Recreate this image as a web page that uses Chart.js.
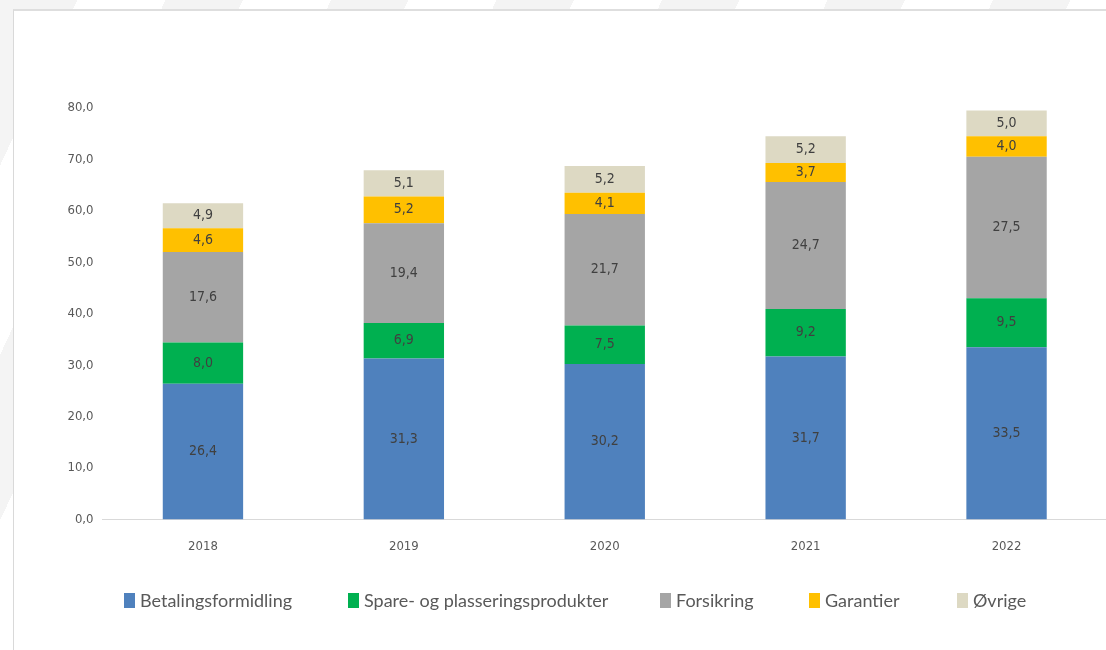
<!DOCTYPE html>
<html>
<head>
<meta charset="utf-8">
<script src="https://cdn.jsdelivr.net/npm/chart.js@4.4.1/dist/chart.umd.min.js"></script>
<style>
  html, body { margin: 0; padding: 0; width: 1106px; height: 650px; overflow: hidden; }
  body {
    background-color: #f5f5f5;
    background-image: repeating-linear-gradient(115deg, #f4f4f4 0px, #f4f4f4 70px, #ffffff 70px, #ffffff 150px);
  }
  #frame {
    position: absolute; left: 13px; top: 9px; width: 1100px; height: 650px;
    background: #ffffff; border-left: 1px solid #d9d9d9; border-top: 2px solid #dedede;
  }
  #wrap { position: absolute; left: 1px; top: 0px; width: 1092px; height: 562px; }
  #legend { position: absolute; left: 0; top: 0; width: 1106px; height: 650px; pointer-events: none; }
  .item {
    position: absolute; top: 588px; height: 24px; display: flex; align-items: center;
    font-family: 'Lato', sans-serif; font-size: 18px; color: #595959; white-space: nowrap;
  }
  .item i { display: inline-block; width: 11px; height: 15px; margin-right: 5px; }
</style>
</head>
<body>
<div id="frame"><div id="wrap"><canvas id="c"></canvas></div></div>
<div id="legend"></div>
<script>
// Inntekter per område, mrd. kroner
const years = ['2018', '2019', '2020', '2021', '2022'];
const betalingsformidling = [26.4, 31.3, 30.2, 31.7, 33.5];
const spareOgPlassering = [8.0, 6.9, 7.5, 9.2, 9.5];
const forsikring = [17.6, 19.4, 21.7, 24.7, 27.5];
const garantier = [4.6, 5.2, 4.1, 3.7, 4.0];
const ovrige = [4.9, 5.1, 5.2, 5.2, 5.0];

const seriesNames = ['Betalingsformidling', 'Spare- og plasseringsprodukter', 'Forsikring', 'Garantier', 'Øvrige'];
const seriesValues = [betalingsformidling, spareOgPlassering, forsikring, garantier, ovrige];
const seriesColors = ['#4f81bd', '#00b050', '#a5a5a5', '#ffc000', '#ddd9c3'];

// left edge of each legend entry
const legendLeft = [124, 348, 660, 809, 957];

const narrow = "'Liberation Sans Narrow', 'DejaVu Sans Condensed', 'Roboto Condensed', sans-serif";

const fmt = v => v.toFixed(1).replace('.', ',');

// Writes each segment's value in its centre
const segmentLabels = {
  id: 'segmentLabels',
  afterDatasetsDraw(chart) {
    const ctx = chart.ctx;
    ctx.save();
    ctx.font = '14px ' + narrow;
    ctx.fillStyle = '#404040';
    ctx.textAlign = 'center';
    ctx.textBaseline = 'middle';
    chart.data.datasets.forEach((ds, i) => {
      chart.getDatasetMeta(i).data.forEach((bar, j) => {
        const p = bar.getProps(['x', 'y', 'base'], true);
        ctx.fillText(fmt(ds.data[j]), p.x, (p.y + p.base) / 2);
      });
    });
    ctx.restore();
  }
};

const chart = new Chart(document.getElementById('c'), {
  type: 'bar',
  data: {
    labels: years,
    datasets: seriesNames.map((name, i) => ({
      label: name,
      data: seriesValues[i],
      backgroundColor: seriesColors[i],
      borderWidth: 0,
      categoryPercentage: 1.0,
      barPercentage: 0.4
    }))
  },
  options: {
    responsive: true,
    maintainAspectRatio: false,
    animation: false,
    layout: { padding: { top: 97, right: 0, bottom: 0, left: 0 } },
    scales: {
      x: {
        stacked: true,
        grid: { display: false, drawTicks: false },
        border: { display: true, color: '#d9d9d9', width: 1 },
        ticks: { color: '#595959', font: { size: 13, family: narrow }, padding: 19 }
      },
      y: {
        stacked: true,
        min: 0, max: 80,
        afterFit(scale) { scale.width = 87.5; },
        grid: { display: false, drawTicks: false },
        border: { display: false },
        ticks: {
          stepSize: 10,
          color: '#595959',
          font: { size: 13, family: narrow },
          padding: 9,
          callback: v => fmt(v)
        }
      }
    },
    plugins: {
      legend: { display: false },
      tooltip: { enabled: false }
    }
  },
  plugins: [segmentLabels]
});

// Legend below the chart, built from the chart's own legend items
const legendEl = document.getElementById('legend');
chart.options.plugins.legend.labels.generateLabels(chart).forEach((it, i) => {
  const el = document.createElement('div');
  el.className = 'item';
  el.style.left = legendLeft[i] + 'px';
  const sw = document.createElement('i');
  sw.style.background = it.fillStyle;
  el.appendChild(sw);
  el.appendChild(document.createTextNode(it.text));
  legendEl.appendChild(el);
});
</script>
</body>
</html>
